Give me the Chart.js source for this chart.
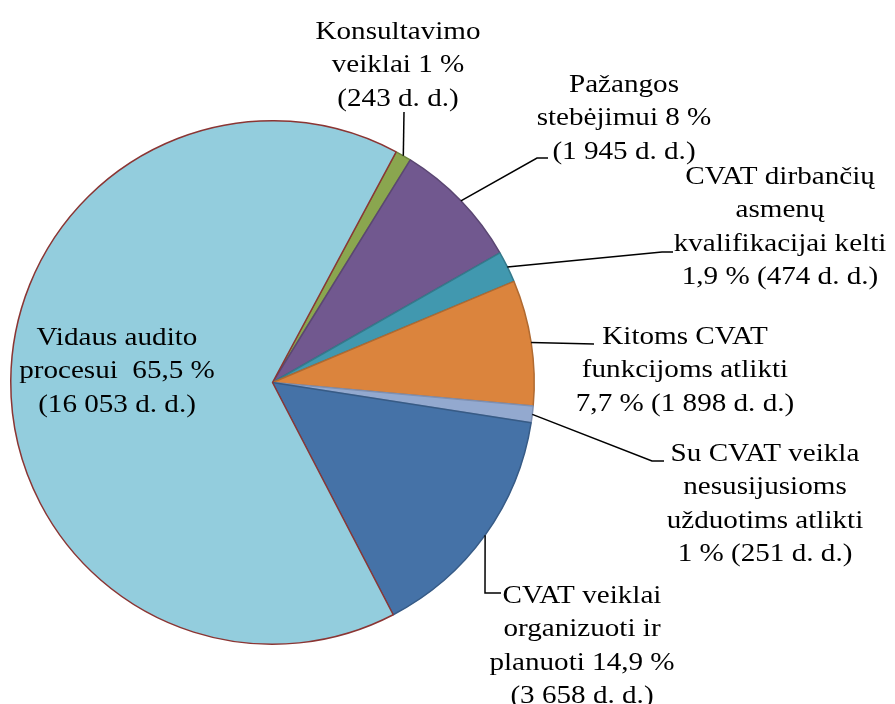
<!DOCTYPE html>
<html>
<head>
<meta charset="utf-8">
<script src="https://cdn.jsdelivr.net/npm/chart.js@4.4.0/dist/chart.umd.min.js"></script>
<style>
    body { margin: 0; background: #fff; }
</style>
</head>
<body>
<canvas id="GraficoDarboDienos" width="895" height="704"></canvas>
<script>
var kategorijos = [
    'Konsultavimo veiklai',
    'Pažangos stebėjimui',
    'CVAT dirbančių asmenų kvalifikacijai kelti',
    'Kitoms CVAT funkcijoms atlikti',
    'Su CVAT veikla nesusijusioms užduotims atlikti',
    'CVAT veiklai organizuoti ir planuoti',
    'Vidaus audito procesui '
];
var dienos = [243, 1945, 474, 1898, 251, 3658, 16053];
var procentai = [1, 8, 1.9, 7.7, 1, 14.9, 65.5];

var spalvos = ['#8AA64F', '#71588F', '#4198AF', '#DB843D', '#93A9CF', '#4572A7', '#93CDDD'];
var kontūrai = ['#6E853E', '#5A4672', '#347A8C', '#B06A31', '#7D90B3', '#375B86', '#8B3533'];

// zodziu skaicius eilutese, teksto centras, pirmos eilutes baseline, linijos taskai
var etiketes = [
    { eil: [1, 3, 3], cx: 398, y: 39, lauz: null, galas: [404, 112] },
    { eil: [1, 3, 4], cx: 624, y: 92, lauz: [537, 158], galas: [548, 158] },
    { eil: [2, 1, 2, 5], cx: 780, y: 184, lauz: [662, 252], galas: [673, 252] },
    { eil: [2, 2, 6], cx: 685, y: 344, lauz: null, galas: [594, 344] },
    { eil: [3, 1, 2, 5], cx: 765, y: 461, lauz: [652, 461], galas: [664, 461] },
    { eil: [2, 2, 3, 4], cx: 582, y: 603, lauz: [485, 593], galas: [501, 593] },
    { eil: [2, 4, 4], cx: 117, y: 345, lauz: null, galas: null }
];

function Tukstanciai(n) {
    return String(n).replace(/\B(?=(\d{3})+(?!\d))/g, ' ');
}

function EtiketesTekstas(i) {
    return kategorijos[i] + ' ' + String(procentai[i]).replace('.', ',') + ' % (' + Tukstanciai(dienos[i]) + ' d. d.)';
}

var etiketesPlugin = {
    id: 'etiketes',
    afterDraw: function (chart) {
        var ctx = chart.ctx;
        var meta = chart.getDatasetMeta(0);

        ctx.save();
        ctx.strokeStyle = '#000';
        ctx.lineWidth = 1.5;
        meta.data.forEach(function (arc, i) {
            var e = etiketes[i];
            if (!e.galas) return;
            var a = (arc.startAngle + arc.endAngle) / 2;
            ctx.beginPath();
            ctx.moveTo(arc.x + Math.cos(a) * arc.outerRadius, arc.y + Math.sin(a) * arc.outerRadius);
            if (e.lauz) ctx.lineTo(e.lauz[0], e.lauz[1]);
            ctx.lineTo(e.galas[0], e.galas[1]);
            ctx.stroke();
        });

        ctx.fillStyle = '#000';
        ctx.font = '25px "Liberation Serif", "Times New Roman", serif';
        ctx.textAlign = 'center';
        ctx.textBaseline = 'alphabetic';
        etiketes.forEach(function (e, i) {
            var zodziai = EtiketesTekstas(i).split(' ');
            var k = 0;
            e.eil.forEach(function (n, j) {
                var eilute = zodziai.slice(k, k + n).join(' ');
                k += n;
                ctx.save();
                ctx.translate(e.cx, e.y + j * 33.3);
                ctx.scale(1.165, 1);
                ctx.fillText(eilute, 0, 0);
                ctx.restore();
            });
        });
        ctx.restore();
    }
};

var ctx = document.getElementById('GraficoDarboDienos').getContext('2d');

var grafico = new Chart(ctx, {
    type: 'pie',
    data: {
        labels: kategorijos,
        datasets: [
            {
                label: 'Darbo dienos',
                data: dienos,
                backgroundColor: spalvos,
                borderColor: kontūrai,
                borderWidth: 1.5,
                hoverOffset: 0
            }
        ]
    },
    options: {
        responsive: false,
        animation: false,
        rotation: 28.2,
        layout: {
            padding: { left: 10, top: 120, right: 360, bottom: 59 }
        },
        plugins: {
            legend: { display: false },
            tooltip: { enabled: false }
        }
    },
    plugins: [etiketesPlugin]
});
</script>
</body>
</html>
